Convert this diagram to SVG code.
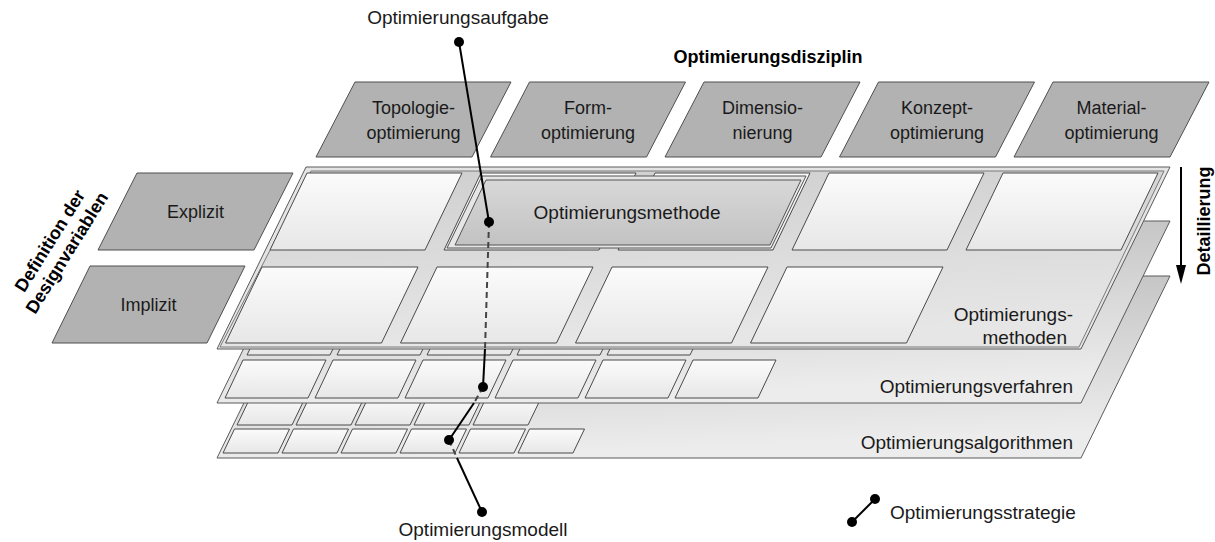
<svg xmlns="http://www.w3.org/2000/svg" width="1215" height="542" viewBox="0 0 1215 542">
<defs>
<linearGradient id="gPlateBack" x1="0" y1="0" x2="0.2" y2="1"><stop offset="0" stop-color="#bdbdbd"/><stop offset="1" stop-color="#ececec"/></linearGradient>
<linearGradient id="gPlateTop" x1="0" y1="0" x2="0.2" y2="1"><stop offset="0" stop-color="#cfcfcf"/><stop offset="1" stop-color="#e6e6e6"/></linearGradient>
<linearGradient id="gCell" x1="0" y1="0" x2="0" y2="1"><stop offset="0" stop-color="#fbfbfb"/><stop offset="1" stop-color="#e7e7e7"/></linearGradient>
<linearGradient id="gHi" x1="0" y1="0" x2="0" y2="1"><stop offset="0" stop-color="#d8d8d8"/><stop offset="1" stop-color="#c2c2c2"/></linearGradient>
</defs>
<style>
text{font-family:"Liberation Sans",Arial,sans-serif;font-size:18px;fill:#1a1a1a}
.l{font-size:19px}
.b{font-weight:bold;font-size:18px;fill:#000}
.m{text-anchor:middle}
.e{text-anchor:end}
.plate{fill:url(#gPlateBack);stroke:#5a5a5a;stroke-width:1}
.ptop{fill:#e4e4e4;stroke:#5a5a5a;stroke-width:1}
.pin{fill:url(#gPlateTop);stroke:#7a7a7a;stroke-width:1}
.cell{fill:url(#gCell);stroke:#4a4a4a;stroke-width:1}
.box{fill:#b2b2b2;stroke:#4f4f4f;stroke-width:1}
.hiO{fill:#e6e6e6;stroke:#555;stroke-width:1}
.hiI{fill:url(#gHi);stroke:#555;stroke-width:1}
.con{fill:none;stroke:#000;stroke-width:2}
.dash{fill:none;stroke:#444;stroke-width:2;stroke-dasharray:6 4}
.dt{fill:#000}
</style>

<g id="layer-algorithmen">
<polygon class="plate" points="306,276 1170,276 1081,458 217,458"/>
<polygon class="cell" points="251,396 306,396 292,425 237,425"/>
<polygon class="cell" points="310,396 365,396 351,425 296,425"/>
<polygon class="cell" points="369,396 424,396 410,425 355,425"/>
<polygon class="cell" points="428,396 483,396 469,425 414,425"/>
<polygon class="cell" points="487,396 542,396 528,425 473,425"/>
<polygon class="cell" points="234.5,429 289.5,429 278,453 223,453"/>
<polygon class="cell" points="293.5,429 348.5,429 337,453 282,453"/>
<polygon class="cell" points="352.5,429 407.5,429 396,453 341,453"/>
<polygon class="cell" points="411.5,429 466.5,429 455,453 400,453"/>
<polygon class="cell" points="470.5,429 525.5,429 514,453 459,453"/>
<polygon class="cell" points="529.5,429 584.5,429 573,453 518,453"/>
<text class="l e" x="1073" y="449">Optimierungsalgorithmen</text>
</g>

<g id="layer-verfahren">
<polygon class="plate" points="306,221 1170,221 1081,403 217,403"/>
<polygon class="cell" points="265,318 348,318 330,355 247,355"/>
<polygon class="cell" points="355,318 438,318 420,355 337,355"/>
<polygon class="cell" points="445,318 528,318 510,355 427,355"/>
<polygon class="cell" points="535,318 618,318 600,355 517,355"/>
<polygon class="cell" points="625,318 708,318 690,355 607,355"/>
<polygon class="cell" points="243,360 326,360 308,398 225,398"/>
<polygon class="cell" points="333,360 416,360 398,398 315,398"/>
<polygon class="cell" points="423,360 506,360 488,398 405,398"/>
<polygon class="cell" points="513,360 596,360 578,398 495,398"/>
<polygon class="cell" points="603,360 686,360 668,398 585,398"/>
<polygon class="cell" points="693,360 776,360 758,398 675,398"/>
<text class="l e" x="1073" y="393">Optimierungsverfahren</text>
</g>

<g id="layer-methoden">
<polygon class="ptop" points="306,167 1170,167 1081,349 217,349"/>
<polygon class="pin" points="311,171 1164,171 1079,347 220,347"/>
<polygon class="cell" points="307,173 462,173 425,250 270,250"/>
<polygon class="cell" points="481,173 636,173 599,250 444,250"/>
<polygon class="cell" points="655,173 810,173 773,250 618,250"/>
<polygon class="cell" points="829,173 984,173 947,250 792,250"/>
<polygon class="cell" points="1003,173 1158,173 1121,250 966,250"/>
<polygon class="cell" points="262,267 418,267 381.5,343 225.5,343"/>
<polygon class="cell" points="437,267 593,267 556.5,343 400.5,343"/>
<polygon class="cell" points="612,267 768,267 731.5,343 575.5,343"/>
<polygon class="cell" points="787,267 943,267 906.5,343 750.5,343"/>
<text class="l e" x="1073" y="321">Optimierungs-</text>
<text class="l e" x="1067" y="344">methoden</text>
</g>

<g id="node-optimierungsmethode">
<polygon class="hiO" points="482,176 806,176 771,248 447,248"/>
<polygon class="hiI" points="486,180 801,180 770,245 455,245"/>
<text class="l m" x="627" y="219">Optimierungsmethode</text>
</g>

<g id="node-explizit">
<polygon class="box" points="137,173 293,173 254,250 98,250"/>
<text class="m" x="195.5" y="218">Explizit</text>
</g>
<g id="node-implizit">
<polygon class="box" points="90,266 245,266 207,343 52,343"/>
<text class="m" x="148.5" y="311">Implizit</text>
</g>
<g id="label-designvariablen">
<text class="b m" transform="translate(55,244) rotate(-58)">Definition der</text>
<text class="b m" transform="translate(72,256) rotate(-58)">Designvariablen</text>
</g>

<g id="node-topologie">
<polygon class="box" points="355,82 511,82 472,157 316,157"/>
<text class="m" x="413.5" y="114">Topologie-</text>
<text class="m" x="413.5" y="139">optimierung</text>
</g>
<g id="node-form">
<polygon class="box" points="529.5,82 685.5,82 646.5,157 490.5,157"/>
<text class="m" x="588" y="114">Form-</text>
<text class="m" x="588" y="139">optimierung</text>
</g>
<g id="node-dimensionierung">
<polygon class="box" points="704,82 860,82 821,157 665,157"/>
<text class="m" x="762.5" y="114">Dimensio-</text>
<text class="m" x="762.5" y="139">nierung</text>
</g>
<g id="node-konzept">
<polygon class="box" points="878.5,82 1034.5,82 995.5,157 839.5,157"/>
<text class="m" x="937" y="114">Konzept-</text>
<text class="m" x="937" y="139">optimierung</text>
</g>
<g id="node-material">
<polygon class="box" points="1053,82 1209,82 1170,157 1014,157"/>
<text class="m" x="1111.5" y="114">Material-</text>
<text class="m" x="1111.5" y="139">optimierung</text>
</g>
<text class="b m" x="768" y="63">Optimierungsdisziplin</text>

<g id="detaillierung">
<line x1="1181" y1="167" x2="1181" y2="268" stroke="#000" stroke-width="2"/>
<polygon points="1176,265 1186,265 1181,284" fill="#000"/>
<text class="b m" transform="translate(1210,221) rotate(-90)">Detaillierung</text>
</g>

<g id="connectors">
<line class="con" x1="459" y1="42" x2="489" y2="222"/>
<line class="dash" x1="489" y1="222" x2="485" y2="349"/>
<line class="con" x1="485" y1="349" x2="483" y2="387"/>
<line class="dash" x1="483" y1="387" x2="474" y2="403"/>
<line class="con" x1="474" y1="403" x2="449" y2="440"/>
<line class="dash" x1="449" y1="440" x2="457" y2="458"/>
<line class="con" x1="457" y1="458" x2="482" y2="512"/>
<circle class="dt" cx="459" cy="42" r="5"/>
<circle class="dt" cx="489" cy="222" r="5"/>
<circle class="dt" cx="483" cy="387" r="5"/>
<circle class="dt" cx="449" cy="440" r="5"/>
<circle class="dt" cx="482" cy="512" r="5"/>
<line class="con" x1="852" y1="522" x2="875" y2="499"/>
<circle class="dt" cx="852" cy="522" r="5"/>
<circle class="dt" cx="875" cy="499" r="5"/>
</g>

<text class="l m" x="458" y="24">Optimierungsaufgabe</text>
<text class="l m" x="483" y="536">Optimierungsmodell</text>
<text class="l" x="890" y="519">Optimierungsstrategie</text>
</svg>
